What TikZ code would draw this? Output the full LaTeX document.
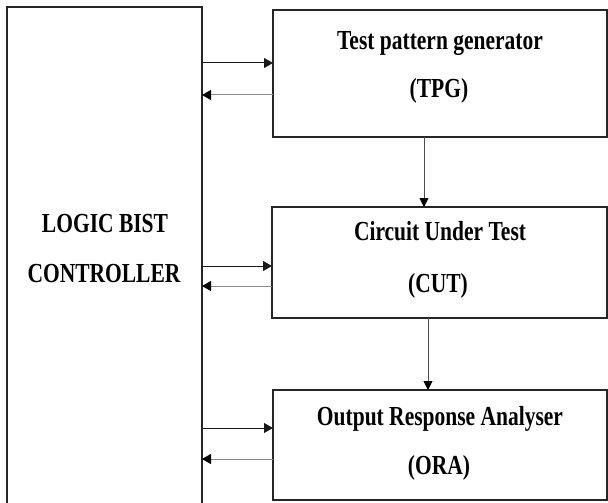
\documentclass[tikz,border=0pt]{standalone}
\usepackage{fontspec}
\setmainfont{Liberation Serif}
\usetikzlibrary{arrows.meta}
\tikzset{
  blk/.style={draw=black!85, line width=1.2pt, outer sep=0pt, inner sep=0pt, fill=white},
  lbl/.style={anchor=base, inner sep=0pt, font=\fontsize{21.5}{26}\selectfont\bfseries},
  fwd/.style={draw=black!90, line width=1pt, -{Triangle[length=9pt,width=10pt]}},
  bwd/.style={draw=black!45, line width=1pt, -{Triangle[length=9pt,width=10pt,fill=black,color=black]}},
  dwn/.style={draw=black!70, line width=0.9pt, -{Triangle[length=9pt,width=9pt,fill=black,color=black]}}
}
\newcommand{\stretched}[1]{\scalebox{1}[1.28]{#1}}
\begin{document}
\begin{tikzpicture}[x=1pt,y=-1pt]
\path[use as bounding box, clip] (0,0) rectangle (608,503);
\fill[white] (0,0) rectangle (608,503);
% blocks
\node[blk, minimum width=195pt, minimum height=508pt] (ctrl) at (104.5,261) {};
\node[blk, minimum width=334pt, minimum height=127pt] (tpg) at (440,73.5) {};
\node[blk, minimum width=335pt, minimum height=111pt] (cut) at (439.5,262.5) {};
\node[blk, minimum width=334pt, minimum height=110pt] (ora) at (440,445) {};
% texts
\node[lbl] (t1) at (105,232) {\stretched{LOGIC BIST}};
\node[lbl] (t2) at (104,282) {\stretched{CONTROLLER}};
\node[lbl] (t3) at (440,50) {\stretched{Test pattern generator}};
\node[lbl] (t4) at (439,97) {\stretched{(TPG)}};
\node[lbl] (t5) at (440,240) {\stretched{Circuit Under Test}};
\node[lbl] (t6) at (438,292) {\stretched{(CUT)}};
\node[lbl] (t7) at (440,425) {\stretched{Output Response Analyser}};
\node[lbl] (t8) at (439,474) {\stretched{(ORA)}};
% controller <-> blocks
\draw[fwd] ([yshift=10.5pt]tpg.west -| ctrl.east) -- ([yshift=10.5pt]tpg.west);
\draw[bwd] ([yshift=-21.5pt]tpg.west) -- ([yshift=-21.5pt]tpg.west -| ctrl.east);
\draw[fwd] ([yshift=-3.5pt]cut.west -| ctrl.east) -- ([yshift=-3.5pt]cut.west);
\draw[bwd] ([yshift=-23.5pt]cut.west) -- ([yshift=-23.5pt]cut.west -| ctrl.east);
\draw[fwd] ([yshift=17pt]ora.west -| ctrl.east) -- ([yshift=17pt]ora.west);
\draw[bwd] ([yshift=-14pt]ora.west) -- ([yshift=-14pt]ora.west -| ctrl.east);
% vertical flow
\draw[dwn] ([xshift=-16pt]tpg.south) -- ([xshift=-16pt]tpg.south |- cut.north);
\draw[dwn] ([xshift=-11.5pt]cut.south) -- ([xshift=-11.5pt]cut.south |- ora.north);
\end{tikzpicture}
\end{document}
